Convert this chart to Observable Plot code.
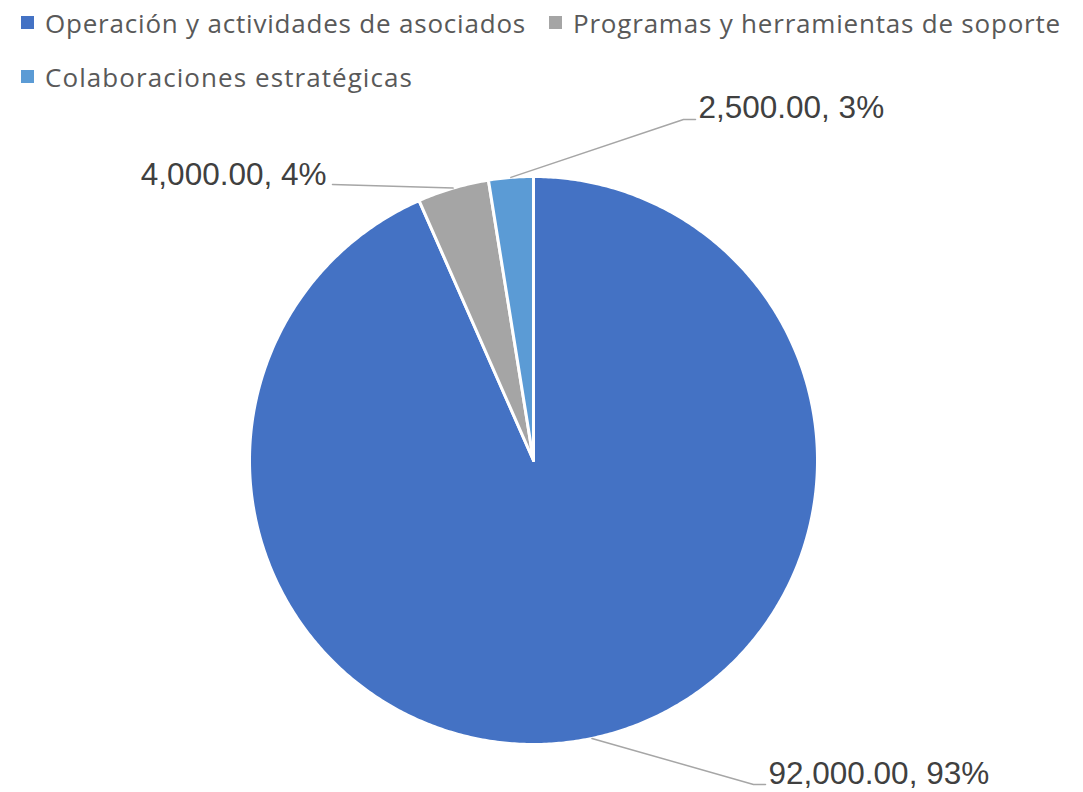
<!DOCTYPE html>
<html>
<head>
<meta charset="utf-8">
<script src="https://cdn.jsdelivr.net/npm/d3@7"></script>
<script src="https://cdn.jsdelivr.net/npm/@observablehq/plot@0.6"></script>
<style>
  html, body { margin: 0; padding: 0; background: #fff; }
  #legend {
    box-sizing: border-box; height: 90px; width: 1083px;
    padding: 7px 0 0 21px;
    display: flex; flex-wrap: wrap; column-gap: 23px; row-gap: 23px;
    font-family: "Open Sans", Lato, sans-serif; font-size: 26px; color: #595959;
    align-content: flex-start;
  }
  .item { display: flex; align-items: center; height: 31px; white-space: nowrap; }
  .sw { width: 13px; height: 13px; margin-right: 11px; flex: none; }
  .lt { display: inline-block; }
</style>
</head>
<body>
<div id="legend"></div>
<div id="chart"></div>
<script>
// ---- data ----
const categories = ["Operación y actividades de asociados", "Programas y herramientas de soporte", "Colaboraciones estratégicas"];
const values = [92000, 4000, 2500];
const colors = ["#4472C4", "#A5A5A5", "#5B9BD5"];

// ---- layout (pixels) ----
const W = 1083, H = 702;
const cx = 533, cy = 370, R = 284;
const legendTextWidth = [481, 488, 368];
// leader elbow / end / text anchor offsets per slice, relative to pie centre
const labelLayout = [
  [220, 324, 232, 324, 235, 313, "start"],
  [-201, -276, -201, -276, -207, -286, "end"],
  [150, -341, 162, -341, 165, -353, "start"]
];

// legend
const legend = document.getElementById("legend");
categories.forEach((c, i) => {
  const it = document.createElement("div");
  it.className = "item";
  it.innerHTML = `<span class="sw" style="background:${colors[i]}"></span><span class="lt">${c}</span>`;
  legend.appendChild(it);
  const t = it.querySelector(".lt");
  const w = t.getBoundingClientRect().width;
  t.style.letterSpacing = ((legendTextWidth[i] - w) / c.length) + "px";
});

const total = d3.sum(values);
const arcs = d3.pie().sort(null)(values);
const fmt = d3.format(",.2f");

const slices = arcs.map((a) => {
  const pts = [{x: 0, y: 0}];
  const n = Math.max(2, Math.ceil((a.endAngle - a.startAngle) / (Math.PI / 360)));
  for (let k = 0; k <= n; k++) {
    const t = a.startAngle + (a.endAngle - a.startAngle) * k / n;
    pts.push({x: R * Math.sin(t), y: -R * Math.cos(t)});
  }
  pts.push({x: 0, y: 0});
  return pts;
});

const leaders = arcs.map((a, i) => {
  const m = (a.startAngle + a.endAngle) / 2;
  const L = labelLayout[i];
  return [
    {x: R * Math.sin(m), y: -R * Math.cos(m)},
    {x: L[0], y: L[1]},
    {x: L[2], y: L[3]}
  ];
});

const labels = arcs.map((a, i) => ({
  x: labelLayout[i][4], y: labelLayout[i][5], anchor: labelLayout[i][6],
  text: `${fmt(values[i])}, ${Math.round(values[i] / total * 100)}%`
}));

const textOpts = {x: "x", y: "y", text: "text", fontSize: 31.5, fontFamily: "Liberation Sans, Arial, sans-serif", fill: "#404040"};
const chart = Plot.plot({
  width: W, height: H, margin: 0,
  style: {overflow: "visible"},
  x: {domain: [-cx, W - cx], range: [0, W], axis: null},
  y: {domain: [-cy, H - cy], range: [0, H], axis: null},
  marks: [
    ...slices.map((pts, i) => Plot.line(pts, {x: "x", y: "y", fill: colors[i], stroke: "white", strokeWidth: 3, strokeLinejoin: "round"})),
    ...leaders.map(pts => Plot.line(pts, {x: "x", y: "y", stroke: "#A6A6A6", strokeWidth: 1.5})),
    Plot.text(labels.filter(d => d.anchor === "start"), {...textOpts, textAnchor: "start"}),
    Plot.text(labels.filter(d => d.anchor === "end"), {...textOpts, textAnchor: "end"})
  ]
});
document.getElementById("chart").appendChild(chart);
</script>
</body>
</html>
